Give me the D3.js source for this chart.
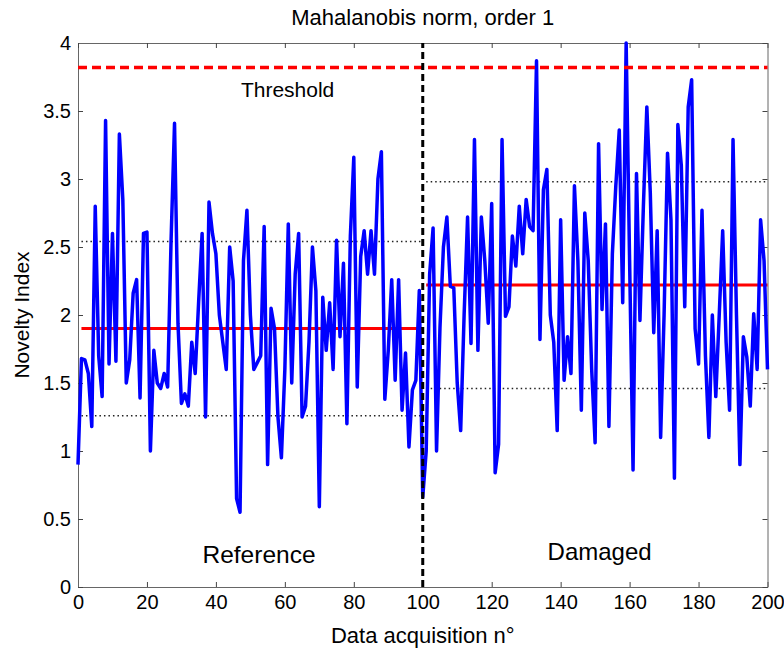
<!DOCTYPE html>
<html>
<head>
<meta charset="utf-8">
<script src="https://cdn.jsdelivr.net/npm/d3@7"></script>
<style>
  body { margin: 0; background: white; }
  text { font-family: "Liberation Sans", Arial, sans-serif; fill: black; }
</style>
</head>
<body>
<div id="chart"></div>
<script>
// Novelty index per acquisition, 0..200
var noveltyIndex = [
  0.9, 1.68, 1.67, 1.57, 1.18, 2.8, 1.7, 1.4, 3.43, 1.64,
  2.6, 1.66, 3.33, 2.85, 1.5, 1.67, 2.16, 2.26, 1.39, 2.6,
  2.61, 1.0, 1.74, 1.5, 1.46, 1.57, 1.47, 2.55, 3.41, 1.94,
  1.35, 1.42, 1.33, 1.8, 1.57, 2.1, 2.6, 1.25, 2.83, 2.6,
  2.45, 2.0, 1.8, 1.6, 2.5, 2.25, 0.65, 0.55, 2.4, 2.77,
  2.0, 1.6, 1.65, 1.7, 2.65, 0.9, 2.05, 1.9, 1.25, 0.95,
  1.6, 2.67, 1.5, 2.3, 2.6, 1.25, 1.33, 1.8, 2.5, 2.18,
  0.59, 2.13, 1.74, 2.09, 1.6, 2.55, 1.84, 2.38, 1.2, 2.58,
  3.16, 1.47, 2.43, 2.62, 2.3, 2.62, 2.3, 3.0, 3.2, 1.38,
  1.74, 2.26, 1.52, 2.26, 1.3, 1.72, 1.03, 1.45, 1.52, 2.18,
  0.66, 1.0, 2.3, 2.64, 1.0, 1.91, 2.5, 2.72, 2.21, 2.2,
  1.5, 1.15, 2.0, 2.72, 1.79, 3.29, 1.74, 2.72, 2.4, 1.94,
  2.82, 0.84, 1.05, 3.29, 1.99, 2.06, 2.58, 2.36, 2.8, 2.45,
  2.85, 2.65, 2.62, 3.87, 1.82, 2.92, 3.07, 2.0, 1.8, 1.15,
  2.7, 1.52, 1.84, 1.57, 2.95, 2.4, 1.3, 2.75, 2.4, 1.6,
  1.06, 3.26, 2.04, 2.67, 1.18, 2.45, 2.95, 3.36, 2.09, 4.02,
  2.4, 0.86, 3.04, 1.96, 2.8, 3.53, 2.9, 1.87, 2.62, 1.1,
  2.0, 3.19, 2.7, 0.8, 3.4, 3.1, 2.06, 3.53, 3.73, 1.9,
  1.64, 2.77, 1.7, 1.1, 2.0, 1.4, 2.0, 2.62, 1.8, 1.3,
  3.29, 2.0, 0.9, 1.84, 1.69, 1.33, 2.01, 1.6, 2.7, 2.4,
  1.6
];

var threshold = 3.82;
var refStats = [1.26, 1.9, 2.54];      // lower, mean, upper
var damagedStats = [1.46, 2.22, 2.98];
var splitAt = 100;
var xTicks = [0, 20, 40, 60, 80, 100, 120, 140, 160, 180, 200];
var yTicks = [0, 0.5, 1, 1.5, 2, 2.5, 3, 3.5, 4];

var width = 784, height = 648;
var margin = { top: 43, right: 16.5, bottom: 61, left: 78 };

var svg = d3.select("#chart").append("svg")
    .attr("width", width)
    .attr("height", height);

var x = d3.scaleLinear().domain([0, 200]).range([margin.left, width - margin.right]);
var y = d3.scaleLinear().domain([0, 4]).range([height - margin.bottom, margin.top]);

// axes (ticks inward, mirrored on top and right)
svg.append("g")
    .attr("transform", `translate(0,${y(0)})`)
    .call(d3.axisBottom(x).tickValues(xTicks).tickSizeInner(-5).tickSizeOuter(0).tickPadding(8));
svg.append("g")
    .attr("transform", `translate(${x(0)},0)`)
    .call(d3.axisLeft(y).tickValues(yTicks).tickFormat(d => d).tickSizeInner(-5).tickSizeOuter(0).tickPadding(7));
svg.append("g")
    .attr("transform", `translate(0,${y(4)})`)
    .call(d3.axisTop(x).tickValues(xTicks).tickSizeInner(-5).tickSizeOuter(0).tickFormat(""));
svg.append("g")
    .attr("transform", `translate(${x(200)},0)`)
    .call(d3.axisRight(y).tickValues(yTicks).tickSizeInner(-5).tickSizeOuter(0).tickFormat(""));

svg.selectAll(".domain").attr("stroke", "#666");
svg.selectAll(".tick line").attr("stroke", "#444");
svg.selectAll(".tick text")
    .attr("font-family", "Liberation Sans, Arial, sans-serif")
    .attr("font-size", 20)
    .attr("fill", "black");

// horizontal reference lines
function hline(x0, x1, v, color, w, dash) {
  svg.append("line")
    .attr("x1", x(x0)).attr("x2", x(x1))
    .attr("y1", y(v)).attr("y2", y(v))
    .attr("stroke", color)
    .attr("stroke-width", w)
    .attr("stroke-dasharray", dash || null);
}
// dotted bands
hline(1, splitAt, refStats[0], "#222", 1.5, "1.5,3");
hline(1, splitAt, refStats[2], "#222", 1.5, "1.5,3");
hline(splitAt + 1, 200, damagedStats[0], "#222", 1.5, "1.5,3");
hline(splitAt + 1, 200, damagedStats[2], "#222", 1.5, "1.5,3");

// mean lines
hline(1, splitAt, refStats[1], "#ff0000", 3);
hline(splitAt + 1, 200, damagedStats[1], "#ff0000", 3);

// novelty index line
var line = d3.line()
    .x((d, i) => x(i))
    .y(d => y(Math.min(d, 4)));

svg.append("path")
    .datum(noveltyIndex)
    .attr("fill", "none")
    .attr("stroke", "#0000ff")
    .attr("stroke-width", 3.5)
    .attr("stroke-linejoin", "round")
    .attr("d", line);

// threshold
hline(0, 200, threshold, "#ff0000", 3.5, "9,5");

// split marker
svg.append("line")
    .attr("x1", x(splitAt)).attr("x2", x(splitAt))
    .attr("y1", y(0)).attr("y2", y(4))
    .attr("stroke", "black")
    .attr("stroke-width", 3)
    .attr("stroke-dasharray", "7,4");

// annotations
svg.append("text")
    .attr("x", x(60.8)).attr("y", 97)
    .attr("text-anchor", "middle")
    .attr("font-size", 21)
    .text("Threshold");
svg.append("text")
    .attr("x", x(52.5)).attr("y", 563)
    .attr("text-anchor", "middle")
    .attr("font-size", 24.5)
    .text("Reference");
svg.append("text")
    .attr("x", x(151.3)).attr("y", 560)
    .attr("text-anchor", "middle")
    .attr("font-size", 24)
    .text("Damaged");

// titles
svg.append("text")
    .attr("x", x(100)).attr("y", 25)
    .attr("text-anchor", "middle")
    .attr("font-size", 22)
    .text("Mahalanobis norm, order 1");
svg.append("text")
    .attr("x", x(100)).attr("y", 643)
    .attr("text-anchor", "middle")
    .attr("font-size", 22)
    .text("Data acquisition n°");
svg.append("text")
    .attr("transform", `translate(29,${y(2)}) rotate(-90)`)
    .attr("text-anchor", "middle")
    .attr("font-size", 21)
    .text("Novelty Index");
</script>
</body>
</html>
